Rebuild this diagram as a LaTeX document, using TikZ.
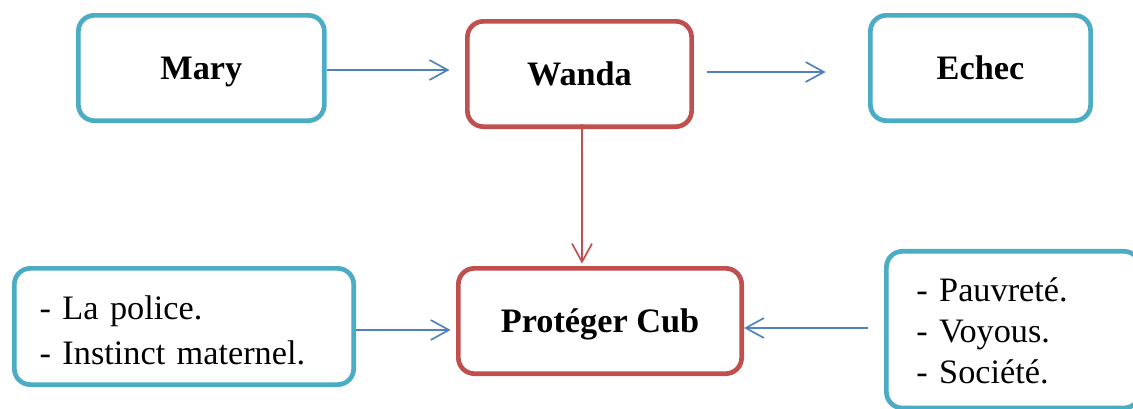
\documentclass[tikz,border=0pt]{standalone}
\usepackage{fontspec}
\setmainfont{Liberation Serif}
\usetikzlibrary{arrows.meta,calc}
\definecolor{boxblue}{HTML}{4BACC6}
\definecolor{boxred}{HTML}{C0504D}
\definecolor{arrblue}{HTML}{4F81BD}
\begin{document}
\begin{tikzpicture}[x=0.75pt,y=-0.75pt,
  box/.style={draw, fill=white, rounded corners=12pt, line width=3.5pt, inner sep=0pt, minimum height=79pt, font=\fontsize{25.7}{31}\selectfont},
  bluebox/.style={box, draw=boxblue},
  redbox/.style={box, draw=boxred},
  boldtext/.style={font=\fontsize{25.7}{31}\selectfont\bfseries, text height=17pt, text depth=0pt},
  link/.style={draw=arrblue, line width=1.25pt, -{Straight Barb[length=13.7pt,width=15pt,line width=1.25pt]}},
  redlink/.style={link, draw=boxred}]
\useasboundingbox (0,0) rectangle (1133,408);
\clip (0,0) rectangle (1133,408);
\node[bluebox, boldtext, minimum width=184.5pt] (mary) at (201.35,68) {Mary};
\node[redbox, boldtext, minimum width=168.2pt] (wanda) at (579.5,74) {Wanda};
\node[bluebox, boldtext, minimum width=165.2pt] (echec) at (980.5,68) {Echec};
\node[redbox, boldtext, minimum width=212.5pt] (prot) at (600,321) {Protéger Cub};
\node[bluebox, minimum width=254.5pt, minimum height=87.2pt, inner xsep=19pt, text width=216.5pt, align=left, font=\fontsize{25.7}{34.1}\selectfont] (left) at (184,326.5) {\rule{0pt}{23.5pt}- La police.\\- Instinct maternel.};
\node[bluebox, minimum width=190.2pt, minimum height=117.5pt, inner xsep=22.5pt, text width=145.2pt, align=left, font=\fontsize{25.7}{30.75}\selectfont] (right) at (1013.2,329.65) {\rule{0pt}{20pt}- Pauvreté.\\- Voyous.\\- Société.};
\coordinate (vx) at (582,0);
\draw[link, shorten >=11.7pt] ($(mary.east)+(0,2)$) -- ($(mary.east -| wanda.west)+(0,2)$);
\draw[link, shorten <=10pt, shorten >=31.8pt] ($(wanda.east)+(0,-2)$) -- ($(wanda.east -| echec.west)+(0,-2)$);
\draw[redlink, shorten >=1.8pt] ($(wanda.south -| vx)+(0,-4.65)$) -- (prot.north -| vx);
\draw[link, shorten >=4pt] ($(left.east)+(0,3.5)$) -- ($(left.east -| prot.west)+(0,3.5)$);
\draw[link, shorten <=12.3pt] ($(right.west)+(0,-1.65)$) -- ($(right.west -| prot.east)+(0,-1.65)$);
\end{tikzpicture}
\end{document}
